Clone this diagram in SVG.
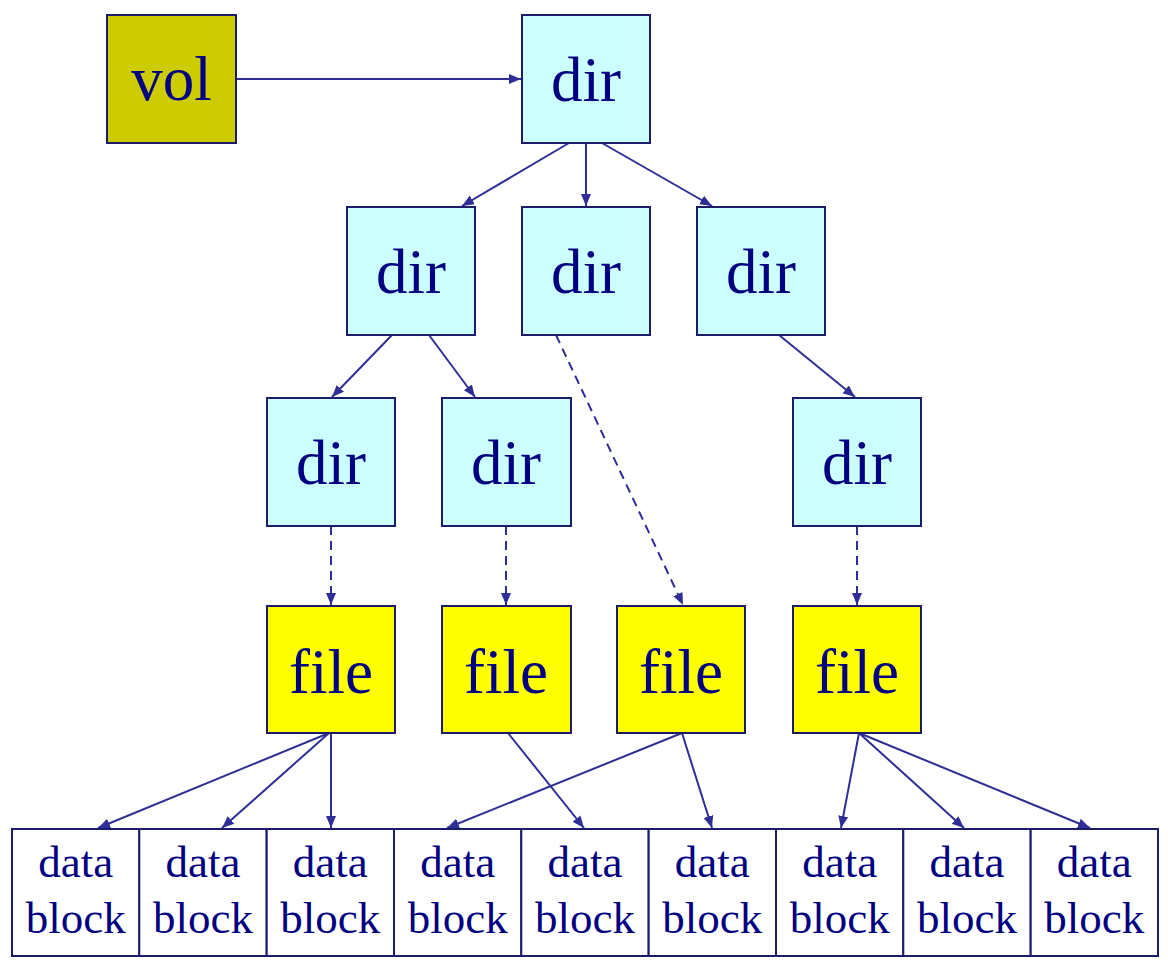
<svg xmlns="http://www.w3.org/2000/svg" width="1168" height="961" viewBox="0 0 1168 961">
<defs>
<style>
.box{stroke:#1c1c6b;stroke-width:2}
.dir{fill:#ccffff}
.file{fill:#ffff00}
.vol{fill:#cccc00}
.blk{fill:#ffffff}
.lbl{font-family:'Liberation Serif','Times New Roman','DejaVu Serif',serif;font-size:63px;fill:#000080;text-anchor:middle;font-variant-ligatures:none}
.sm{font-size:45px}
.c{stroke:#2e2e96;stroke-width:2;fill:none;marker-end:url(#ah)}
.d{stroke-dasharray:9 6}
</style>
<marker id="ah" markerUnits="userSpaceOnUse" markerWidth="14" markerHeight="12" refX="12" refY="5" orient="auto" viewBox="0 0 14 10">
<path d="M0,0 L12,5 L0,10 z" fill="#2e2e96"/>
</marker>
</defs>
<rect width="1168" height="961" fill="#ffffff"/>
<g id="connectors">
<line class="c" x1="236" y1="79" x2="521" y2="79"/>
<line class="c" x1="569" y1="143" x2="462" y2="206"/>
<line class="c" x1="586" y1="143" x2="586" y2="206"/>
<line class="c" x1="602" y1="143" x2="712" y2="206"/>
<line class="c" x1="392" y1="335" x2="332" y2="397"/>
<line class="c" x1="429" y1="335" x2="475" y2="397"/>
<line class="c" x1="779" y1="335" x2="855" y2="397"/>
<line class="c d" x1="556" y1="335" x2="683" y2="605"/>
<line class="c d" x1="331" y1="526" x2="331" y2="605"/>
<line class="c d" x1="506" y1="526" x2="506" y2="605"/>
<line class="c d" x1="857" y1="526" x2="857" y2="605"/>
<line class="c" x1="329" y1="733" x2="98" y2="828"/>
<line class="c" x1="329" y1="733" x2="222" y2="828"/>
<line class="c" x1="331" y1="733" x2="331" y2="828"/>
<line class="c" x1="508" y1="733" x2="584" y2="828"/>
<line class="c" x1="682" y1="733" x2="447" y2="828"/>
<line class="c" x1="682" y1="733" x2="712" y2="828"/>
<line class="c" x1="859" y1="733" x2="841" y2="828"/>
<line class="c" x1="859" y1="733" x2="964" y2="828"/>
<line class="c" x1="859" y1="733" x2="1090" y2="828"/>
</g>
<g id="vol"><rect class="box vol" x="107" y="15" width="129" height="128"/><text class="lbl" x="171.5" y="100">vol</text></g>
<g id="dir0"><rect class="box dir" x="522" y="15" width="128" height="128"/><text class="lbl" x="586" y="101">dir</text></g>
<g id="dir1"><rect class="box dir" x="347" y="207" width="128" height="128"/><text class="lbl" x="411" y="293">dir</text></g>
<g id="dir2"><rect class="box dir" x="522" y="207" width="128" height="128"/><text class="lbl" x="586" y="293">dir</text></g>
<g id="dir3"><rect class="box dir" x="697" y="207" width="128" height="128"/><text class="lbl" x="761" y="293">dir</text></g>
<g id="dir4"><rect class="box dir" x="267" y="398" width="128" height="128"/><text class="lbl" x="331" y="484">dir</text></g>
<g id="dir5"><rect class="box dir" x="442" y="398" width="129" height="128"/><text class="lbl" x="506" y="484">dir</text></g>
<g id="dir6"><rect class="box dir" x="793" y="398" width="128" height="128"/><text class="lbl" x="857" y="484">dir</text></g>
<g id="file1"><rect class="box file" x="267" y="606" width="128" height="127"/><text class="lbl" x="331" y="693">file</text></g>
<g id="file2"><rect class="box file" x="442" y="606" width="129" height="127"/><text class="lbl" x="506" y="693">file</text></g>
<g id="file3"><rect class="box file" x="617" y="606" width="128" height="127"/><text class="lbl" x="681" y="693">file</text></g>
<g id="file4"><rect class="box file" x="793" y="606" width="128" height="127"/><text class="lbl" x="857" y="693">file</text></g>
<g id="block1"><rect class="box blk" x="12" y="829" width="127.3" height="127"/><text class="lbl sm" x="75.7" y="877">data</text><text class="lbl sm" x="75.7" y="933">block</text></g>
<g id="block2"><rect class="box blk" x="139.3" y="829" width="127.3" height="127"/><text class="lbl sm" x="203" y="877">data</text><text class="lbl sm" x="203" y="933">block</text></g>
<g id="block3"><rect class="box blk" x="266.7" y="829" width="127.3" height="127"/><text class="lbl sm" x="330.3" y="877">data</text><text class="lbl sm" x="330.3" y="933">block</text></g>
<g id="block4"><rect class="box blk" x="394" y="829" width="127.3" height="127"/><text class="lbl sm" x="457.7" y="877">data</text><text class="lbl sm" x="457.7" y="933">block</text></g>
<g id="block5"><rect class="box blk" x="521.3" y="829" width="127.3" height="127"/><text class="lbl sm" x="585" y="877">data</text><text class="lbl sm" x="585" y="933">block</text></g>
<g id="block6"><rect class="box blk" x="648.7" y="829" width="127.3" height="127"/><text class="lbl sm" x="712.3" y="877">data</text><text class="lbl sm" x="712.3" y="933">block</text></g>
<g id="block7"><rect class="box blk" x="776" y="829" width="127.3" height="127"/><text class="lbl sm" x="839.7" y="877">data</text><text class="lbl sm" x="839.7" y="933">block</text></g>
<g id="block8"><rect class="box blk" x="903.3" y="829" width="127.3" height="127"/><text class="lbl sm" x="967" y="877">data</text><text class="lbl sm" x="967" y="933">block</text></g>
<g id="block9"><rect class="box blk" x="1030.7" y="829" width="127.3" height="127"/><text class="lbl sm" x="1094.3" y="877">data</text><text class="lbl sm" x="1094.3" y="933">block</text></g>
</svg>
